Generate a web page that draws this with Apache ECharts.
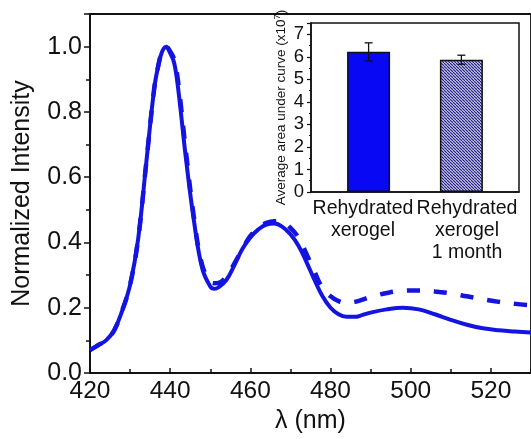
<!DOCTYPE html>
<html>
<head>
<meta charset="utf-8">
<script src="https://cdn.jsdelivr.net/npm/echarts@6/dist/echarts.min.js"></script>
<style>
  html, body { margin: 0; padding: 0; background: #fff; }
  #chart { width: 531px; height: 439px; }
</style>
</head>
<body>
<div id="chart"></div>
<script>
// spectra (wavelength in nm, normalized intensity)
var wavelength = [420, 422, 424, 426, 428, 430, 432, 434, 436, 437, 438, 439, 440, 441, 442, 444, 446, 448, 450, 451,
  452, 454, 456, 458, 460, 462, 464, 466, 468, 470, 472, 474, 476, 478, 480, 482, 484, 486, 488, 490,
  494, 498, 502, 506, 510, 514, 518, 522, 526, 530];
var fresh = [0.07, 0.085, 0.10, 0.13, 0.19, 0.27, 0.41, 0.64, 0.87, 0.94, 0.985, 1.0, 0.98, 0.95, 0.87, 0.65, 0.46, 0.32, 0.265, 0.258,
  0.262, 0.285, 0.33, 0.38, 0.415, 0.44, 0.455, 0.458, 0.448, 0.425, 0.39, 0.34, 0.285, 0.235, 0.2, 0.18, 0.172, 0.172, 0.178, 0.185,
  0.195, 0.2, 0.195, 0.18, 0.163, 0.148, 0.137, 0.131, 0.127, 0.124];
var month = [0.07, 0.085, 0.10, 0.13, 0.19, 0.27, 0.41, 0.64, 0.87, 0.94, 0.985, 1.0, 0.985, 0.96, 0.89, 0.67, 0.47, 0.33, 0.28, 0.275,
  0.276, 0.295, 0.335, 0.38, 0.42, 0.445, 0.46, 0.465, 0.462, 0.445, 0.415, 0.365, 0.31, 0.26, 0.235, 0.22, 0.215, 0.218, 0.225, 0.233,
  0.245, 0.252, 0.253, 0.25, 0.244, 0.235, 0.226, 0.218, 0.212, 0.207];

// inset bars (x10^7)
var barNames = ['Rehydrated\nxerogel', 'Rehydrated\nxerogel\n1 month'];
var barMean = [6.22, 5.87];
var barErr = [0.4, 0.2];

var font = 'Liberation Sans, Arial, sans-serif';
var blue = '#1414e0';
var ink = '#111';

// hatch for the second bar
var hatch = document.createElement('canvas');
hatch.width = 3; hatch.height = 3;
var hc = hatch.getContext('2d');
hc.fillStyle = '#ececf6';
hc.fillRect(0, 0, 3, 3);
hc.strokeStyle = '#25258a';
hc.lineWidth = 1.25;
[-3, 0, 3].forEach(function (o) {
  hc.beginPath(); hc.moveTo(o, 0); hc.lineTo(o + 3, 3); hc.stroke();
});

function pairs(ys) {
  return wavelength.map(function (x, i) { return [x, ys[i]]; });
}

// bars sit a little off the band centres, as in the picture
var barShift = [5.6, -5.6];

var chart = echarts.init(document.getElementById('chart'));
chart.setOption({
  animation: false,
  grid: [
    { left: 90, top: 14, width: 444, height: 359, show: true, borderColor: ink, borderWidth: 1.8 },
    { left: 311, top: 23, width: 208, height: 169, show: true, borderColor: ink, borderWidth: 1.5,
      backgroundColor: '#fff', z: 5 }
  ],
  xAxis: [
    {
      gridIndex: 0, type: 'value', min: 420, max: 530, interval: 20,
      name: 'λ (nm)', nameLocation: 'middle', nameGap: 33,
      nameTextStyle: { fontFamily: font, fontSize: 25, color: ink },
      axisLine: { lineStyle: { color: ink, width: 1.8 } },
      axisTick: { inside: true, length: 5, lineStyle: { color: ink, width: 1.5 } },
      minorTick: { show: true, splitNumber: 2, length: 4, lineStyle: { color: ink, width: 1.5 } },
      axisLabel: { fontFamily: font, fontSize: 24.5, color: ink, margin: 6, showMaxLabel: false },
      splitLine: { show: false }
    },
    {
      gridIndex: 1, type: 'category', data: barNames,
      axisLine: { lineStyle: { color: ink, width: 1.5 } },
      axisTick: { show: false },
      axisLabel: { fontFamily: font, fontSize: 19.5, lineHeight: 21.7, color: ink, margin: 6, interval: 0 },
      z: 6
    }
  ],
  yAxis: [
    {
      gridIndex: 0, type: 'value', min: 0, max: 1.1, interval: 0.2,
      name: 'Normalized Intensity', nameLocation: 'middle', nameGap: 55,
      nameTextStyle: { fontFamily: font, fontSize: 25, color: ink },
      axisLine: { show: true, lineStyle: { color: ink, width: 1.8 } },
      axisTick: { show: true, length: 6, lineStyle: { color: ink, width: 1.5 } },
      minorTick: { show: true, splitNumber: 2, length: 4, lineStyle: { color: ink, width: 1.5 } },
      axisLabel: {
        fontFamily: font, fontSize: 25, color: ink, margin: 8, showMaxLabel: false,
        formatter: function (v) { return v.toFixed(1); }
      },
      splitLine: { show: false }
    },
    {
      gridIndex: 1, type: 'value', min: 0, max: 7.5, interval: 1,
      name: '{a|Average area under curve (x10}{s|7}{a|)}', nameLocation: 'middle', nameGap: 21,
      nameTextStyle: {
        rich: {
          a: { fontFamily: font, fontSize: 13.5, color: ink },
          s: { fontFamily: font, fontSize: 9.5, color: ink, verticalAlign: 'top', padding: [0, 0, 8, 0] }
        }
      },
      axisLine: { show: true, lineStyle: { color: ink, width: 1.5 } },
      axisTick: { show: true, length: 4, lineStyle: { color: ink, width: 1.2 } },
      minorTick: { show: true, splitNumber: 2, length: 2, lineStyle: { color: ink, width: 1 } },
      axisLabel: { fontFamily: font, fontSize: 18.5, color: ink, margin: 7, showMaxLabel: false },
      splitLine: { show: false },
      z: 6
    }
  ],
  series: [
    {
      name: 'Rehydrated xerogel 1 month', type: 'line', xAxisIndex: 0, yAxisIndex: 0,
      data: pairs(month), smooth: 0.4, showSymbol: false,
      lineStyle: { color: blue, width: 4.5, type: [13, 14] }
    },
    {
      name: 'Rehydrated xerogel', type: 'line', xAxisIndex: 0, yAxisIndex: 0,
      data: pairs(fresh), smooth: 0.4, showSymbol: false,
      lineStyle: { color: blue, width: 4 }
    },
    {
      type: 'bar', xAxisIndex: 1, yAxisIndex: 1, z: 7,
      data: [null, barMean[1]], barWidth: 43, barGap: '-74%',
      itemStyle: { color: { image: hatch, repeat: 'repeat' }, borderColor: ink, borderWidth: 1.5 }
    },
    {
      type: 'bar', xAxisIndex: 1, yAxisIndex: 1, z: 7,
      data: [barMean[0], null], barWidth: 43,
      itemStyle: { color: '#0808f5', borderColor: ink, borderWidth: 1.5 }
    },
    {
      type: 'custom', xAxisIndex: 1, yAxisIndex: 1, z: 8,
      data: barMean.map(function (m, i) { return [i, m, barErr[i]]; }),
      encode: { x: 0, y: 1 },
      renderItem: function (params, api) {
        var i = api.value(0), m = api.value(1), e = api.value(2);
        var x = api.coord([i, m])[0] + barShift[i];
        var top = api.coord([i, m + e])[1];
        var bot = api.coord([i, m - e])[1];
        var st = { stroke: ink, lineWidth: 1.3 };
        return {
          type: 'group',
          children: [
            { type: 'line', shape: { x1: x, y1: top, x2: x, y2: bot }, style: st },
            { type: 'line', shape: { x1: x - 4, y1: top, x2: x + 4, y2: top }, style: st },
            { type: 'line', shape: { x1: x - 4, y1: bot, x2: x + 4, y2: bot }, style: st }
          ]
        };
      }
    }
  ]
});
</script>
</body>
</html>
